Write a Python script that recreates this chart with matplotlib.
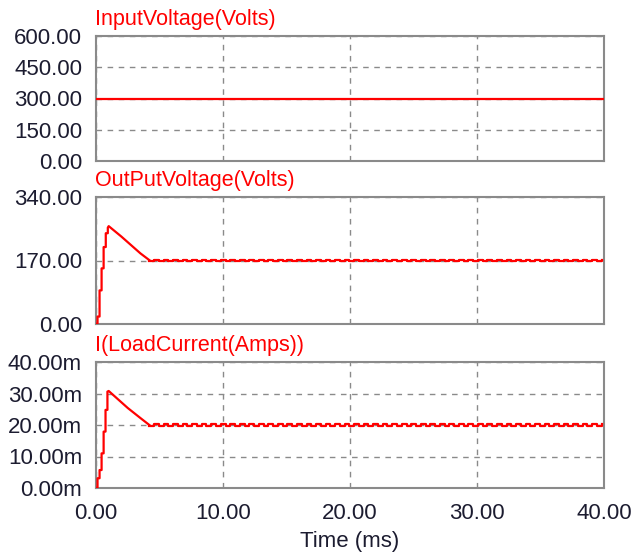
import numpy as np
import matplotlib
matplotlib.use("Agg")
import matplotlib.pyplot as plt

plt.rcParams["font.family"] = ["Liberation Sans", "DejaVu Sans"]

# ── Data ──────────────────────────────────────────────────────────────────────
# input voltage: flat 300 V across the run
vin_t = [0.0, 40.0]
vin_v = [300.0, 300.0]

# output voltage transient (ms, V) – stepped rise, overshoot, linear decay
vout_t_tr = [0.0, 0.12, 0.12, 0.28, 0.28, 0.44, 0.44, 0.6, 0.6, 0.77, 0.77,
             0.93, 0.93, 1.0, 1.5, 2.0, 2.5, 3.0, 3.5, 4.2]
vout_v_tr = [0.0, 0.0, 20.0, 20.0, 90.0, 90.0, 149.0, 149.0, 206.0, 206.0,
             243.0, 243.0, 258.0, 262.0, 248.0, 234.0, 219.0, 204.0, 189.0, 171.0]

# load current transient (ms, A)
iload_t_tr = [0.0, 0.12, 0.12, 0.28, 0.28, 0.44, 0.44, 0.6, 0.6, 0.75, 0.75,
              0.9, 0.9, 1.0, 1.5, 2.0, 2.5, 3.0, 3.5, 4.2]
iload_v_tr = [0.0, 0.0, 3.1e-3, 3.1e-3, 5.7e-3, 5.7e-3, 11.0e-3, 11.0e-3,
              17.9e-3, 17.9e-3, 24.8e-3, 24.8e-3, 30.6e-3, 30.8e-3, 29.0e-3,
              27.2e-3, 25.4e-3, 23.8e-3, 22.2e-3, 20.0e-3]

# steady-state ripple (square-ish, ~0.75 ms period)
ripple_t = np.arange(4.2, 40.01, 0.375)
vout_ripple = [169.5, 172.5] * 48
iload_ripple = [19.7e-3, 20.3e-3] * 48

x_ticks = [0, 10, 20, 30, 40]

RED = "#ff0000"
GRAY = "#8a8a8a"
TXT = "#1c1c30"

fig = plt.figure(figsize=(6.32, 5.53), dpi=100)

L, W = 96 / 632, 508 / 632
H = 553


def make_ax(top_px, bot_px):
    return fig.add_axes([L, 1 - bot_px / H, W, (bot_px - top_px) / H])


ax1 = make_ax(36, 161)
ax2 = make_ax(197, 324)
ax3 = make_ax(362, 488)

n = len(ripple_t)
ax1.plot(vin_t, vin_v, color=RED, lw=1.6, zorder=3)
ax2.plot(vout_t_tr, vout_v_tr, color=RED, lw=1.6, zorder=3)
ax2.step(ripple_t, vout_ripple[:n], where="post", color=RED, lw=1.6, zorder=3)
ax3.plot(iload_t_tr, iload_v_tr, color=RED, lw=1.6, zorder=3)
ax3.step(ripple_t, iload_ripple[:n], where="post", color=RED, lw=1.6, zorder=3)

ax1.set_ylim(0, 600)
ax1.set_yticks([0, 150, 300, 450, 600])
ax1.set_yticklabels([f"{v:.2f}" for v in [0, 150, 300, 450, 600]])

ax2.set_ylim(0, 340)
ax2.set_yticks([0, 170, 340])
ax2.set_yticklabels([f"{v:.2f}" for v in [0, 170, 340]])

ax3.set_ylim(0, 0.040)
cur_ticks = [0, 0.01, 0.02, 0.03, 0.04]
ax3.set_yticks(cur_ticks)
ax3.set_yticklabels([f"{v * 1000:.2f}m" for v in cur_ticks])

titles = ["InputVoltage(Volts)", "OutPutVoltage(Volts)", "I(LoadCurrent(Amps))"]
for ax, title in zip((ax1, ax2, ax3), titles):
    ax.set_xlim(0, 40)
    ax.set_xticks(x_ticks)
    ax.grid(True, color=GRAY, ls=(0, (4, 4)), lw=1.0)
    for sp in ax.spines.values():
        sp.set_color(GRAY)
        sp.set_linewidth(1.5)
    ax.tick_params(length=0, labelsize=16, labelcolor=TXT, pad=10)
    ax.annotate(title, xy=(0, 1), xycoords="axes fraction",
                xytext=(-1, 4), textcoords="offset points",
                color=RED, fontsize=15.5, ha="left", va="bottom")

ax1.tick_params(labelbottom=False)
ax2.tick_params(labelbottom=False)
ax3.set_xticklabels([f"{v:.2f}" for v in x_ticks])
ax3.tick_params(axis="x", pad=11)
ax3.set_xlabel("Time (ms)", fontsize=16, color=TXT, labelpad=5)

fig.savefig("out.png", dpi=100)
